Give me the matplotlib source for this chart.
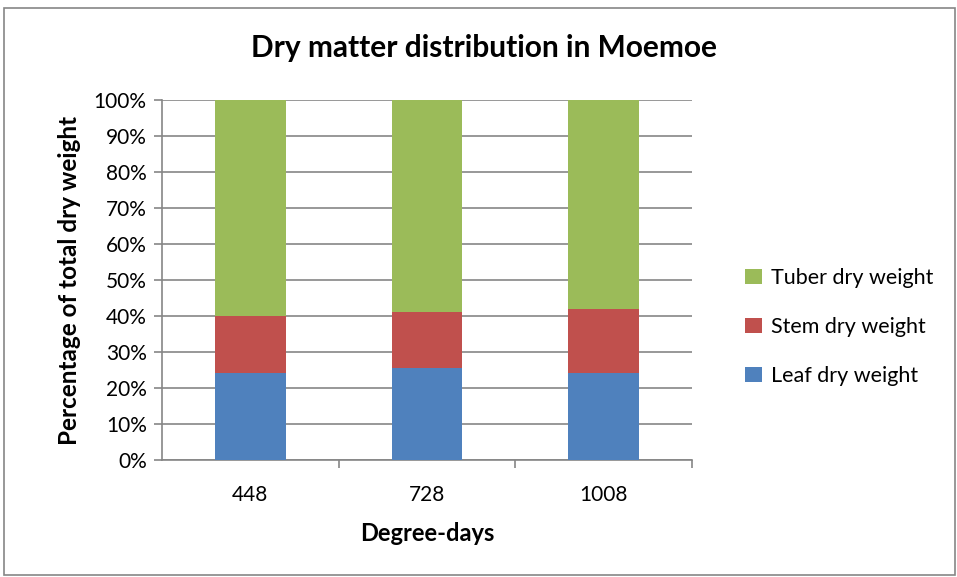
import matplotlib
matplotlib.use("Agg")
from matplotlib import pyplot as plt
from matplotlib.patches import Rectangle

categories = ["448", "728", "1008"]
leaf = [24.2, 25.5, 24.2]
stem = [15.7, 15.5, 17.7]
tuber = [60.1, 59.0, 58.1]
yticks = list(range(0, 101, 10))

plt.rcParams['font.family'] = ['Lato', 'DejaVu Sans']

fig = plt.figure(figsize=(9.57, 5.77), dpi=100)
fig.patches.append(Rectangle((4 / 957, 2 / 577), 951 / 957, 567 / 577,
                             transform=fig.transFigure, fill=False,
                             edgecolor='#868686', linewidth=1.2))

ax = fig.add_axes([162 / 957, 1 - 460 / 577, 530 / 957, 360 / 577])
x = range(len(categories))
w = 0.4
ax.bar(x, leaf, w, color='#4f81bd', label='Leaf dry weight', zorder=3)
ax.bar(x, stem, w, bottom=leaf, color='#c0504d', label='Stem dry weight', zorder=3)
bottom2 = [a + b for a, b in zip(leaf, stem)]
ax.bar(x, tuber, w, bottom=bottom2, color='#9bbb59', label='Tuber dry weight', zorder=3)

ax.set_xlim(-0.5, 2.5)
ax.set_ylim(0, 100)
ax.set_yticks(yticks)
ax.set_yticklabels([f"{v}%" for v in yticks], fontsize=15)
ax.yaxis.grid(True, color='#868686', linewidth=1.2, zorder=0)
ax.set_xticks([0.5, 1.5, 2.5], minor=False)
ax.set_xticklabels([])
ax.set_xticks(list(x), minor=True)
ax.set_xticklabels(categories, minor=True, fontsize=15)
ax.tick_params(axis='x', which='major', length=6, color='#868686', width=1.2)
ax.tick_params(axis='x', which='minor', length=0, pad=18)
ax.tick_params(axis='y', length=6, color='#868686', width=1.2, pad=5)

for s in ['top', 'right']:
    ax.spines[s].set_visible(False)
for s in ['left', 'bottom']:
    ax.spines[s].set_color('#868686')
    ax.spines[s].set_linewidth(1.2)

ax.set_xlabel("Degree-days", fontsize=17, fontweight='bold', labelpad=12)
ax.set_ylabel("Percentage of total dry weight", fontsize=17.5, fontweight='bold', labelpad=9)
fig.text(484 / 957, 1 - 48 / 577, "Dry matter distribution in Moemoe",
         ha='center', va='center', fontsize=21.5, fontweight='bold')

handles, labels = ax.get_legend_handles_labels()
fig.legend(handles[::-1], labels[::-1], loc='center left',
           bbox_to_anchor=(726 / 957, 1 - 327 / 577), frameon=False,
           fontsize=15.5, handlelength=0.75, handleheight=0.75,
           labelspacing=1.35, handletextpad=0.45)

fig.savefig("out.png", dpi=100)
